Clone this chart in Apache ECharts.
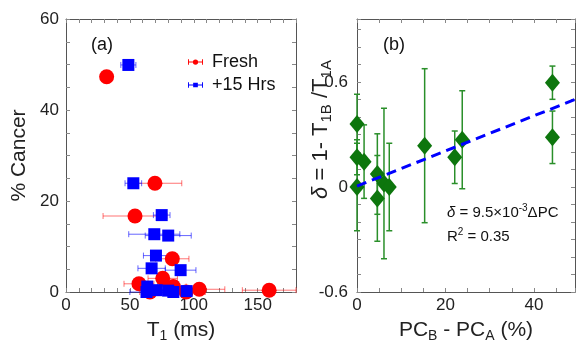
<!DOCTYPE html>
<html><head><meta charset="utf-8">
<script src="https://cdn.jsdelivr.net/npm/echarts@6/dist/echarts.min.js"></script>
<style>html,body{margin:0;padding:0;background:#fff}#c{width:578px;height:351px}</style>
</head><body><div id="c"></div>
<script>
// ---- Panel (a) data ----
const freshT1  = [31.8, 69.6, 54.0, 83.2, 75.7, 57.1, 84.0, 104.3, 159.0, 65.7, 94.0];
const freshPc  = [47.3, 23.9, 16.7, 7.3, 3.0, 1.8, 1.2, 0.6, 0.4, 0.0, 0.0];
const freshErr = [3, 21, 25, 13, 11.5, 11.7, 10, 20, 21, 8, 15];
const hrsT1  = [48.8, 52.7, 74.9, 69.1, 80.0, 70.4, 67.0, 89.7, 63.6, 63.0, 71.0, 80.0, 84.0, 94.4];
const hrsPc  = [49.9, 23.9, 16.9, 12.7, 12.4, 8.0, 5.2, 4.8, 1.2, 0.0, 0.4, 0.3, 0.0, 0.2];
const hrsErr = [5.9, 6.5, 6.5, 20, 18, 9.8, 10.7, 12, 8, 13, 8, 8, 8, 8];
// ---- Panel (b) data ----
const dPC      = [0, 0, 1.6, 0, 4.6, 4.6, 6.1, 7.3, 15.3, 22.1, 23.8, 44.2, 44.2];
const delta    = [0.36, 0.17, 0.145, 0.0, 0.074, -0.065, 0.02, 0.0, 0.236, 0.17, 0.27, 0.596, 0.284];
const deltaErr = [0.17, 0.1, 0.21, 0.25, 0.23, 0.245, 0.43, 0.25, 0.44, 0.15, 0.28, 0.095, 0.15];
const fitX = [0, 49.3];
const fitY = [0.005, 0.50];
// ---- tick labels ----
const xTicksA = [0, 50, 100, 150];
const yTicksA = [0, 20, 40, 60];
const xTicksB = [0, 20, 40];
const yTicksB = [-0.6, 0, 0.6];

const FONT = 'Liberation Sans, Arial, Helvetica, sans-serif';
const near = (v, arr) => arr.some(t => Math.abs(v - t) < 1e-6);

function axis(o) {
  return Object.assign({
    type: 'value',
    axisLine: {show: true, onZero: false, lineStyle: {color: '#555', width: 1}},
    axisTick: {show: true, inside: true, length: 4, lineStyle: {color: '#888'}},
    splitLine: {show: false},
    axisLabel: {show: false}
  }, o);
}
function lbl(arr, margin, fmt) {
  return {show: true, fontSize: 17, color: '#222', fontFamily: FONT, margin: margin,
    formatter: v => near(v, arr) ? (fmt ? fmt(v) : String(v)) : ''};
}
function richSet(fs, ss) {
  return {
    m: {fontSize: fs, fontFamily: FONT, color: '#222', lineHeight: fs + 5},
    i: {fontSize: fs, fontFamily: FONT, color: '#222', lineHeight: fs + 5, fontStyle: 'italic'},
    s: {fontSize: ss, fontFamily: FONT, color: '#222', lineHeight: ss + 2, verticalAlign: 'bottom'}
  };
}
const nameRich = richSet(21, 14);
const deltaRich = richSet(22, 15);

function hErr(color) {
  return function (params, api) {
    const x = api.value(0), y = api.value(1), e = api.value(2);
    const p1 = api.coord([x - e, y]), p2 = api.coord([x + e, y]);
    const c = 3, st = {stroke: color, lineWidth: 1};
    return {type: 'group', children: [
      {type: 'line', shape: {x1: p1[0], y1: p1[1], x2: p2[0], y2: p2[1]}, style: st},
      {type: 'line', shape: {x1: p1[0], y1: p1[1] - c, x2: p1[0], y2: p1[1] + c}, style: st},
      {type: 'line', shape: {x1: p2[0], y1: p2[1] - c, x2: p2[0], y2: p2[1] + c}, style: st}
    ]};
  };
}
function vErr(color) {
  return function (params, api) {
    const x = api.value(0), y = api.value(1), e = api.value(2);
    const p1 = api.coord([x, y - e]), p2 = api.coord([x, y + e]);
    const c = 3, st = {stroke: color, lineWidth: 1.5};
    return {type: 'group', children: [
      {type: 'line', shape: {x1: p1[0], y1: p1[1], x2: p2[0], y2: p2[1]}, style: st},
      {type: 'line', shape: {x1: p1[0] - c, y1: p1[1], x2: p1[0] + c, y2: p1[1]}, style: st},
      {type: 'line', shape: {x1: p2[0] - c, y1: p2[1], x2: p2[0] + c, y2: p2[1]}, style: st}
    ]};
  };
}

const redIcon = 'path://M0,1h1v6h-1zM15,1h1v6h-1zM0,3.5h16v1h-16zM8,1.2a2.8,2.8 0 1,1 0,5.6a2.8,2.8 0 1,1 0,-5.6z';
const blueIcon = 'path://M0,1h1v6h-1zM15,1h1v6h-1zM0,3.5h16v1h-16zM5.5,1.5h5v5h-5z';

const chart = echarts.init(document.getElementById('c'), null, {renderer: 'canvas'});
chart.setOption({
  animation: false,
  backgroundColor: '#fff',
  grid: [
    {left: 66, top: 19, width: 230, height: 273},
    {left: 357, top: 19, width: 219, height: 273}
  ],
  xAxis: [
    axis({gridIndex: 0, position: 'bottom', min: 0, max: 180, interval: 10, axisLabel: lbl(xTicksA, 5),
      name: '{m|T}{s|1}{m| (ms)}', nameLocation: 'middle', nameGap: 25,
      nameTextStyle: {rich: nameRich}}),
    axis({gridIndex: 0, position: 'top', min: 0, max: 180, interval: 10}),
    axis({gridIndex: 1, position: 'bottom', min: 0, max: 49.3, interval: 5, axisLabel: lbl(xTicksB, 5),
      name: '{m|PC}{s|B}{m| - PC}{s|A}{m| (%)}', nameLocation: 'middle', nameGap: 25,
      nameTextStyle: {rich: nameRich}}),
    axis({gridIndex: 1, position: 'top', min: 0, max: 49.3, interval: 5})
  ],
  yAxis: [
    axis({gridIndex: 0, position: 'left', min: 0, max: 60, interval: 5, axisLabel: lbl(yTicksA, 7),
      name: '% Cancer', nameLocation: 'middle', nameGap: 36,
      nameTextStyle: {fontSize: 21, fontFamily: FONT, color: '#222'}}),
    axis({gridIndex: 0, position: 'right', min: 0, max: 60, interval: 5}),
    axis({gridIndex: 1, position: 'left', min: -0.6, max: 0.96, interval: 0.1,
      axisLabel: lbl(yTicksB, 9, v => Math.abs(v) < 1e-6 ? '0' : v.toFixed(1)),
      name: '{i|δ}{m| = 1- T}{s|1B}{m| /T}{s|1A}', nameLocation: 'middle', nameGap: 23,
      nameMoveOverlap: false,
      nameTextStyle: {rich: deltaRich, padding: [0, 0, 0, 52]}}),
    axis({gridIndex: 1, position: 'right', min: -0.6, max: 0.96, interval: 0.1})
  ],
  legend: {
    orient: 'vertical', left: 183, top: 47, itemWidth: 15, itemHeight: 7, itemGap: 3,
    textStyle: {fontSize: 18, fontFamily: FONT, color: '#111', lineHeight: 20, padding: [0, 0, 0, 4]},
    data: [{name: 'Fresh', icon: redIcon}, {name: '+15 Hrs', icon: blueIcon}]
  },
  graphic: [
    {type: 'text', left: 91, top: 36, style: {text: '(a)', fontSize: 18, fontFamily: FONT, fill: '#111'}},
    {type: 'text', left: 383, top: 36, style: {text: '(b)', fontSize: 18, fontFamily: FONT, fill: '#111'}},
    {type: 'text', left: 447, top: 203, style: {
      text: '{i|δ}{n| = 9.5×10}{p|-3}{n|ΔPC}', fill: '#111',
      rich: {
        i: {fontSize: 15, fontFamily: FONT, fontStyle: 'italic', lineHeight: 20, fill: '#111'},
        n: {fontSize: 15, fontFamily: FONT, lineHeight: 20, fill: '#111'},
        p: {fontSize: 10, fontFamily: FONT, lineHeight: 12, verticalAlign: 'top', fill: '#111'}
      }}},
    {type: 'text', left: 447, top: 227, style: {
      text: '{n|R}{p|2}{n| = 0.35}', fill: '#111',
      rich: {
        n: {fontSize: 15, fontFamily: FONT, lineHeight: 20, fill: '#111'},
        p: {fontSize: 10, fontFamily: FONT, lineHeight: 12, verticalAlign: 'top', fill: '#111'}
      }}}
  ],
  series: [
    {type: 'custom', name: 'freshErr', xAxisIndex: 0, yAxisIndex: 0, clip: false, z: 2,
      renderItem: hErr('rgba(255,0,0,0.55)'),
      data: freshT1.map((t, i) => [t, freshPc[i], freshErr[i]])},
    {type: 'scatter', name: 'Fresh', xAxisIndex: 0, yAxisIndex: 0, clip: false, z: 2,
      symbol: 'circle', symbolSize: 15, itemStyle: {color: '#ff0000', opacity: 1},
      data: freshT1.map((t, i) => [t, freshPc[i]])},
    {type: 'custom', name: 'hrsErr', xAxisIndex: 0, yAxisIndex: 0, clip: false, z: 2,
      renderItem: hErr('rgba(0,0,255,0.6)'),
      data: hrsT1.map((t, i) => [t, hrsPc[i], hrsErr[i]])},
    {type: 'scatter', name: '+15 Hrs', xAxisIndex: 0, yAxisIndex: 0, clip: false, z: 2,
      symbol: 'rect', symbolSize: 12, itemStyle: {color: '#0000ff', opacity: 1},
      data: hrsT1.map((t, i) => [t, hrsPc[i]])},
    {type: 'custom', name: 'deltaErr', xAxisIndex: 2, yAxisIndex: 2, clip: false, z: 2,
      renderItem: vErr('#2a8f2a'),
      data: dPC.map((x, i) => [x, delta[i], deltaErr[i]])},
    {type: 'scatter', name: 'delta', xAxisIndex: 2, yAxisIndex: 2, clip: false, z: 2,
      symbol: 'diamond', symbolSize: [15, 18], itemStyle: {color: '#0d760d', opacity: 1},
      data: dPC.map((x, i) => [x, delta[i]])},
    {type: 'line', name: 'fit', xAxisIndex: 2, yAxisIndex: 2, z: 3, symbol: 'none',
      lineStyle: {color: '#0000ff', width: 3, type: [10, 6]},
      data: fitX.map((x, i) => [x, fitY[i]])}
  ]
});
</script></body></html>
